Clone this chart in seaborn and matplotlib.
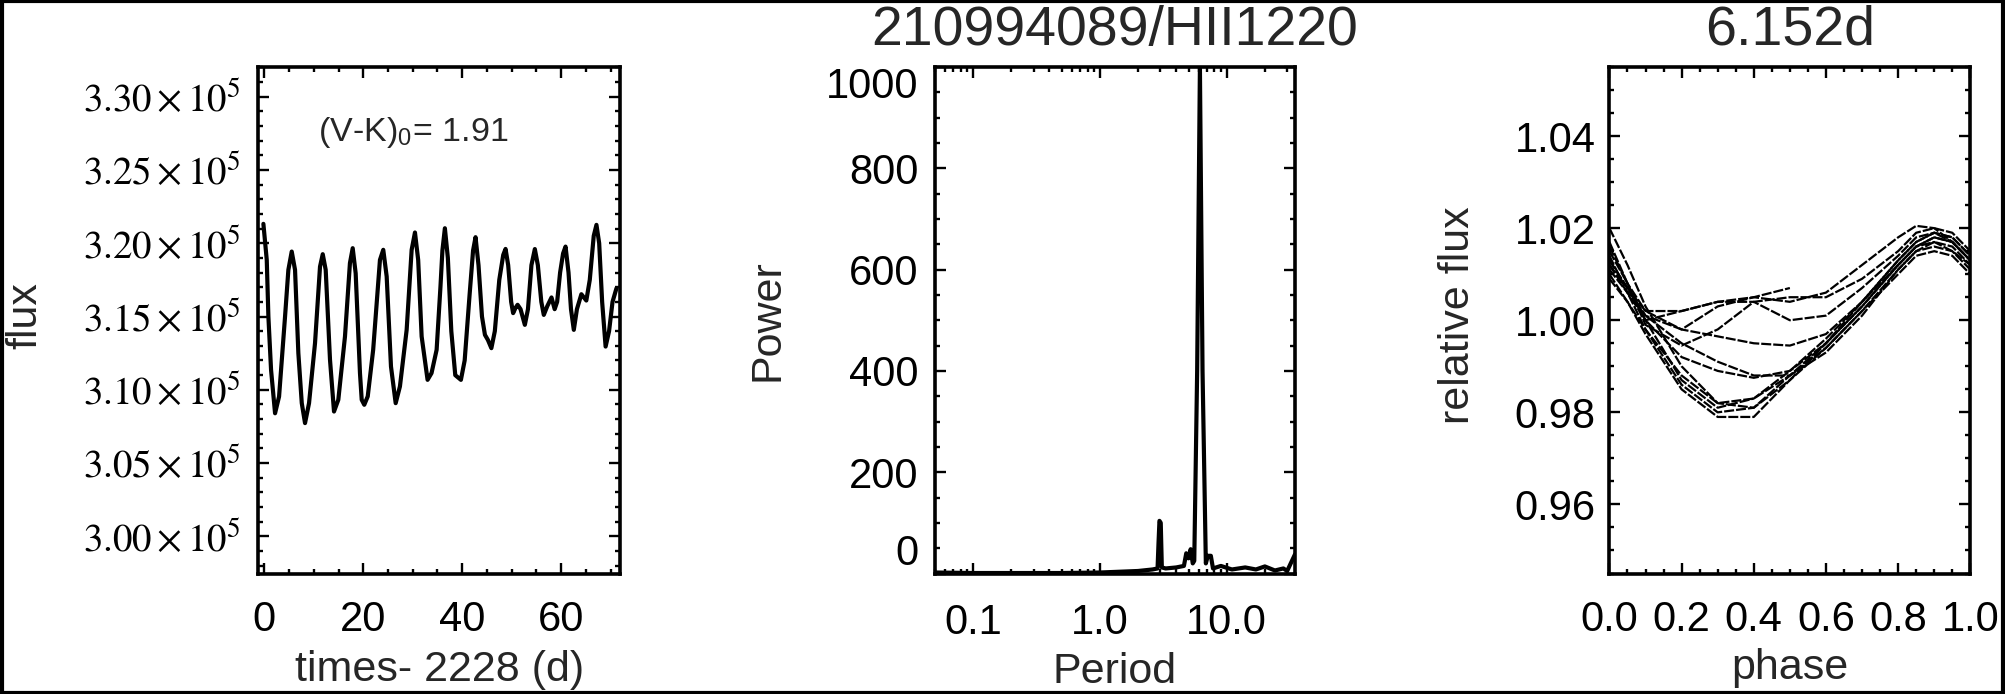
import numpy as np
import pandas as pd
import matplotlib
matplotlib.use("Agg")
import matplotlib.pyplot as plt
import matplotlib.ticker as mticker
from matplotlib.patches import Rectangle
import seaborn as sns

# --- light curve (times - 2228 d, flux) ---
time_d = [-0.2, 0.48, 0.81, 1.35, 2.16, 2.97, 4.18, 4.85, 5.53, 6.2, 6.87, 7.56, 8.22, 9.03,
          10.24, 11.25, 11.8, 12.4, 13.27, 14.08, 14.95, 16.3, 17.3, 17.86, 18.46, 19.33,
          19.68, 20.2, 20.9, 22.0, 23.37, 24.04, 24.73, 25.6, 26.55, 27.41, 28.77, 29.78,
          30.45, 31.1, 31.8, 33.0, 33.8, 34.83, 35.6, 36.0, 36.5, 37.1, 37.8, 38.6, 39.74,
          40.5, 41.5, 42.2, 42.7, 43.3, 44.0, 44.6, 45.2, 45.9, 46.6, 47.5, 48.3, 48.77,
          49.3, 49.9, 50.3, 50.8, 51.2, 51.8, 52.67, 53.3, 54.0, 54.69, 55.3, 56.0, 56.5,
          57.2, 58.06, 58.7, 59.2, 59.8, 60.4, 60.9, 61.5, 62.0, 62.57, 63.2, 64.1, 65.1,
          65.8, 66.6, 67.15, 67.7, 68.3, 69.0, 69.7, 70.4, 71.2]
flux_e5 = [3.2132, 3.1886, 3.15, 3.1136, 3.084, 3.0954, 3.15, 3.1818, 3.1943, 3.1818, 3.125,
           3.0909, 3.0773, 3.0909, 3.1318, 3.184, 3.1925, 3.1818, 3.1205, 3.0852, 3.0932,
           3.1364, 3.1864, 3.1966, 3.1795, 3.1114, 3.0932, 3.0898, 3.0955, 3.1273, 3.1886,
           3.1955, 3.1773, 3.1159, 3.0909, 3.1023, 3.1409, 3.1955, 3.2073, 3.1886, 3.1364,
           3.1068, 3.1114, 3.1273, 3.17, 3.195, 3.2102, 3.19, 3.14, 3.11, 3.1068, 3.12,
           3.165, 3.195, 3.2041, 3.185, 3.15, 3.1375, 3.134, 3.1284, 3.14, 3.175, 3.192,
           3.1961, 3.185, 3.16, 3.1523, 3.156, 3.158, 3.155, 3.1443, 3.155, 3.185, 3.196,
           3.185, 3.16, 3.1511, 3.157, 3.163, 3.155, 3.16, 3.18, 3.193, 3.1977, 3.18, 3.155,
           3.1409, 3.155, 3.1652, 3.1609, 3.175, 3.205, 3.2125, 3.2, 3.16, 3.1295, 3.14,
           3.16, 3.1693]
flux = [v * 1e5 for v in flux_e5]

# --- periodogram ---
period = [0.05, 0.1, 0.5, 1.0, 2.0, 2.6, 2.85, 2.9, 2.95, 3.02, 3.08, 3.3, 4.0, 4.6, 4.8,
          5.0, 5.2, 5.4, 5.55, 5.85, 6.15, 6.45, 6.85, 7.1, 7.5, 7.8, 9.0, 11.0, 14.0, 17.0,
          20.0, 24.0, 28.0, 30.0, 34.6]
power = [2, 1, 1, 2, 5, 8, 10, 60, 104, 100, 12, 10, 12, 15, 40, 30, 48, 20, 25, 400, 1000,
         400, 20, 35, 35, 10, 15, 8, 12, 8, 14, 6, 10, 5, 38]

# --- phase-folded cycles (P = 6.152 d) ---
phase = [0.0, 0.05, 0.1, 0.2, 0.3, 0.4, 0.5, 0.6, 0.7, 0.8, 0.85, 0.9, 0.95, 1.0]
cycle_a1 = [1.010, 1.004, 0.997, 0.985, 0.979, 0.979, 0.987, 0.994, 1.002, 1.011, 1.015, 1.016, 1.015, 1.011]
cycle_a2 = [1.012, 1.006, 0.998, 0.986, 0.980, 0.981, 0.988, 0.995, 1.003, 1.012, 1.016, 1.017, 1.015, 1.012]
cycle_a3 = [1.015, 1.008, 1.000, 0.987, 0.981, 0.983, 0.989, 0.996, 1.004, 1.013, 1.017, 1.019, 1.017, 1.013]
cycle_a4 = [1.009, 1.004, 0.998, 0.988, 0.982, 0.983, 0.988, 0.994, 1.002, 1.010, 1.014, 1.015, 1.014, 1.010]
cycle_a5 = [1.020, 1.012, 1.003, 0.990, 0.982, 0.981, 0.987, 0.995, 1.004, 1.013, 1.017, 1.019, 1.018, 1.014]
cycle_b1 = [1.013, 1.007, 1.000, 0.992, 0.989, 0.9875, 0.989, 0.995, 1.003, 1.012, 1.016, 1.018, 1.017, 1.013]
cycle_b2 = [1.011, 1.006, 1.001, 0.995, 0.991, 0.988, 0.988, 0.993, 1.001, 1.011, 1.015, 1.017, 1.016, 1.012]
cycle_c1 = [1.012, 1.007, 1.002, 0.998, 0.9965, 0.995, 0.9945, 0.997, 1.004, 1.012, 1.016, 1.018, 1.017, 1.013]
cycle_d1 = [1.016, 1.008, 1.002, 1.002, 1.004, 1.005, 1.007, None, None, None, None, None, None, None]
cycle_d2 = [1.013, 1.007, 1.001, 0.998, 1.003, 1.005, 1.004, 1.006, 1.012, 1.018, 1.0205, 1.020, 1.017, 1.013]
cycle_d3 = [1.014, 1.006, 1.000, 1.002, 1.004, 1.004, 1.000, 1.001, 1.007, 1.014, 1.018, 1.019, 1.018, 1.014]
cycle_d4 = [1.017, 1.008, 0.999, 0.9945, 0.998, 1.004, 1.005, 1.005, 1.009, 1.015, 1.019, 1.020, 1.019, 1.015]
cycles = {"a1": cycle_a1, "a2": cycle_a2, "a3": cycle_a3, "a4": cycle_a4, "a5": cycle_a5,
          "b1": cycle_b1, "b2": cycle_b2, "c1": cycle_c1, "d1": cycle_d1, "d2": cycle_d2,
          "d3": cycle_d3, "d4": cycle_d4}

sns.set_style("ticks")
plt.rcParams["font.family"] = ["Liberation Sans", "DejaVu Sans"]
plt.rcParams["mathtext.fontset"] = "stix"

TICK = 30
LAB = 31

fig = plt.figure(figsize=(20.05, 6.94), dpi=100)
bot, h = 0.1736, 0.7299
ax1 = fig.add_axes([0.1289, bot, 0.1803, h])
ax2 = fig.add_axes([0.4663, bot, 0.1796, h])
ax3 = fig.add_axes([0.8027, bot, 0.1800, h])

def style(ax):
    for s in ax.spines.values():
        s.set_linewidth(2.6)
        s.set_color("black")
    ax.tick_params(which="both", direction="in", top=True, right=True, colors="black",
                   width=1.7, labelsize=TICK)
    ax.tick_params(which="major", length=8)
    ax.tick_params(which="minor", length=3.5)

# panel 1: light curve
sns.lineplot(x=time_d, y=flux, ax=ax1, color="black", linewidth=3, sort=False)
ax1.set_xlim(-1.2, 71.9)
ax1.set_ylim(2.9747e5, 3.3202e5)
style(ax1)
ax1.xaxis.set_major_locator(mticker.MultipleLocator(20))
ax1.xaxis.set_minor_locator(mticker.MultipleLocator(5))
ax1.yaxis.set_major_locator(mticker.MultipleLocator(0.05e5))
ax1.yaxis.set_minor_locator(mticker.MultipleLocator(0.01e5))
ax1.yaxis.set_major_formatter(mticker.FuncFormatter(
    lambda v, p: rf"${v / 1e5:.2f}\times10^{{5}}$"))
ax1.tick_params(axis="y", pad=13, labelsize=28)
ax1.tick_params(axis="x", pad=19)
ax1.set_xlabel("times- 2228 (d)", fontsize=LAB)
ax1.set_ylabel("flux", fontsize=LAB, va="center")
ax1.xaxis.set_label_coords(0.5, -0.15)
ax1.yaxis.set_label_coords(-0.646, 0.51)
ax1.text(0.165, 0.853, r"(V-K)$_\mathregular{0}$= 1.91", transform=ax1.transAxes,
         fontsize=24.5, va="baseline", ha="left")

# panel 2: periodogram
ax2.set_xscale("log")
sns.lineplot(x=period, y=power, ax=ax2, color="black", linewidth=3, sort=False)
ax2.set_xlim(0.05, 34.6)
ax2.set_ylim(0, 1000)
style(ax2)
ax2.xaxis.set_major_locator(mticker.FixedLocator([0.1, 1.0, 10.0]))
ax2.xaxis.set_major_formatter(mticker.FixedFormatter(["0.1", "1.0", "10.0"]))
ax2.xaxis.set_minor_locator(mticker.LogLocator(base=10, subs=np.arange(2, 10), numticks=20))
ax2.xaxis.set_minor_formatter(mticker.NullFormatter())
ax2.yaxis.set_major_locator(mticker.FixedLocator([0, 200, 400, 600, 800, 1000]))
ax2.yaxis.set_minor_locator(mticker.MultipleLocator(50))
ax2.tick_params(axis="y", pad=12)
ax2.tick_params(axis="x", pad=21)
ax2.set_xlabel("Period", fontsize=LAB)
ax2.set_ylabel("Power", fontsize=LAB, va="center")
ax2.xaxis.set_label_coords(0.5, -0.155)
ax2.yaxis.set_label_coords(-0.465, 0.5)
ax2.set_title("210994089/HII1220", fontsize=40, pad=16)

# panel 3: phased light curves
fold = pd.DataFrame([(c, ph, v) for c, vals in cycles.items() for ph, v in zip(phase, vals)
                     if v is not None], columns=["cycle", "phase", "flux"])
sns.lineplot(data=fold, x="phase", y="flux", units="cycle", estimator=None, ax=ax3,
             color="black", linewidth=1.6, dashes=False, sort=False)
for ln in ax3.get_lines():
    ln.set_linestyle((0, (4.5, 0.9)))
ax3.set_xlim(0, 1)
ax3.set_ylim(0.945, 1.055)
style(ax3)
ax3.xaxis.set_major_locator(mticker.MultipleLocator(0.2))
ax3.xaxis.set_minor_locator(mticker.MultipleLocator(0.05))
ax3.xaxis.set_major_formatter(mticker.FormatStrFormatter("%.1f"))
ax3.yaxis.set_major_locator(mticker.MultipleLocator(0.02))
ax3.yaxis.set_minor_locator(mticker.MultipleLocator(0.005))
ax3.yaxis.set_major_formatter(mticker.FormatStrFormatter("%.2f"))
ax3.tick_params(axis="y", pad=10)
ax3.tick_params(axis="x", pad=19)
ax3.set_xlabel("phase", fontsize=LAB)
ax3.set_ylabel("relative flux", fontsize=LAB, va="center")
ax3.xaxis.set_label_coords(0.5, -0.148)
ax3.yaxis.set_label_coords(-0.42, 0.51)
ax3.set_title("6.152d", fontsize=40, pad=16)

fig.patches.append(Rectangle((0.001, 0.002), 0.998, 0.996, transform=fig.transFigure,
                             fill=False, edgecolor="black", linewidth=3))

# end labels of the power axis sit inside the frame, as in the original
fig.canvas.draw()
for tk in ax2.yaxis.get_major_ticks():
    if tk.get_loc() == 1000:
        tk.label1.set_va("top")
    elif tk.get_loc() == 0:
        tk.label1.set_va("bottom")

fig.savefig("out.png", dpi=100)
